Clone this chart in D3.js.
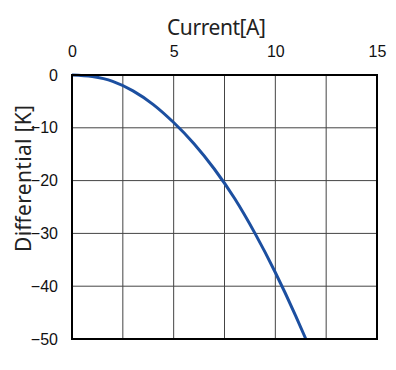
<!DOCTYPE html>
<html>
<head>
<meta charset="utf-8">
<script src="https://cdn.jsdelivr.net/npm/d3@7"></script>
<style>
  body { margin: 0; background: #fff; }
</style>
</head>
<body>
<div id="chart"></div>
<script>
// values
var currentA = [0, 1, 2, 3, 4, 5, 6, 7, 8, 9, 10, 11, 11.5];
var diffK = [0, -0.3, -1.2, -3.0, -5.6, -9.0, -13.0, -17.8, -23.4, -30.0, -37.4, -45.6, -50];

var xTicks = [0, 5, 10, 15];
var yTicks = [0, -10, -20, -30, -40, -50];
var xGrid = [2.5, 5, 7.5, 10, 12.5];
var yGrid = [-10, -20, -30, -40];

var W = 396, H = 370;
var margin = { top: 75, right: 19, bottom: 31, left: 72 };
var width = W - margin.left - margin.right;
var height = H - margin.top - margin.bottom;

var svg = d3.select('#chart')
  .append('svg')
  .attr('width', W)
  .attr('height', H);

var g = svg.append('g')
  .attr('transform', `translate(${margin.left}, ${margin.top})`);

var x = d3.scaleLinear().domain([0, 15]).range([0, width]);
var y = d3.scaleLinear().domain([0, -50]).range([0, height]);

// grid lines
g.selectAll('.vgrid')
  .data(xGrid)
  .join('line')
  .attr('x1', d => x(d)).attr('x2', d => x(d))
  .attr('y1', 0).attr('y2', height)
  .attr('stroke', '#444')
  .attr('stroke-width', 1);

g.selectAll('.hgrid')
  .data(yGrid)
  .join('line')
  .attr('x1', 0).attr('x2', width)
  .attr('y1', d => y(d)).attr('y2', d => y(d))
  .attr('stroke', '#444')
  .attr('stroke-width', 1);

// axes, labels only
var xAxis = g.append('g')
  .call(d3.axisTop(x).tickValues(xTicks).tickSize(0).tickPadding(18));
var yAxis = g.append('g')
  .call(d3.axisLeft(y).tickValues(yTicks).tickSize(0).tickPadding(14));

[xAxis, yAxis].forEach(a => {
  a.select('.domain').remove();
  a.selectAll('text')
    .attr('font-family', '"Liberation Sans", Arial, sans-serif')
    .attr('font-size', '16px')
    .attr('fill', '#111');
});

// curve
var line = d3.line()
  .x((d, i) => x(currentA[i]))
  .y(d => y(d))
  .curve(d3.curveMonotoneX);

g.append('path')
  .datum(diffK)
  .attr('d', line)
  .attr('fill', 'none')
  .attr('stroke', '#1c4fa0')
  .attr('stroke-width', 3);

// frame
g.append('rect')
  .attr('x', 0).attr('y', 0)
  .attr('width', width).attr('height', height)
  .attr('fill', 'none')
  .attr('stroke', '#000')
  .attr('stroke-width', 2);

// titles
svg.append('text')
  .attr('x', 167)
  .attr('y', 35)
  .attr('textLength', 99)
  .attr('lengthAdjust', 'spacing')
  .attr('font-family', '"Noto Sans", sans-serif')
  .attr('font-size', '21px')
  .attr('fill', '#222')
  .text('Current[A]');

svg.append('text')
  .attr('transform', 'translate(31, 252) rotate(-90)')
  .attr('textLength', 147)
  .attr('lengthAdjust', 'spacing')
  .attr('font-family', '"Noto Sans", sans-serif')
  .attr('font-size', '21px')
  .attr('fill', '#222')
  .text('Differential [K]');
</script>
</body>
</html>
